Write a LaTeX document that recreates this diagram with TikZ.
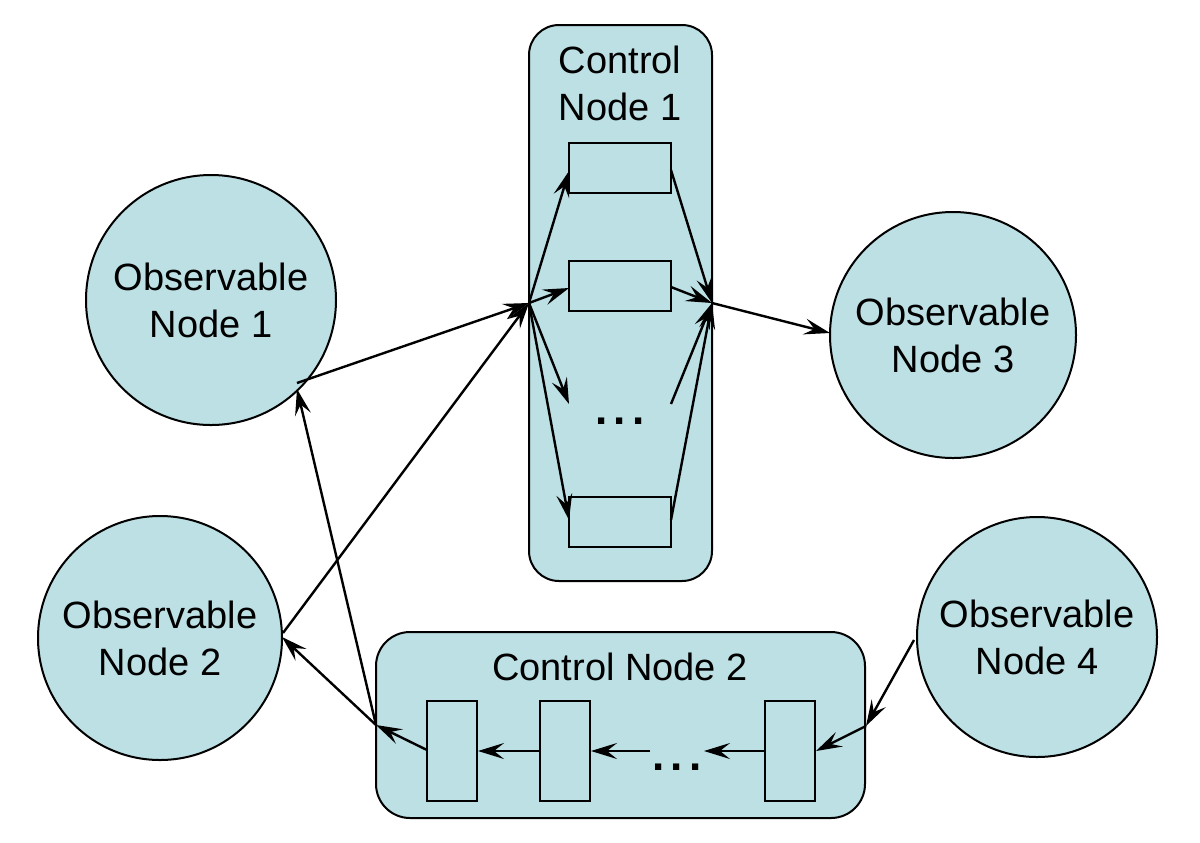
\documentclass[tikz,border=0pt]{standalone}
\usepackage{fontspec}
\setmainfont{Liberation Sans}
\usetikzlibrary{arrows.meta}
\definecolor{nodefill}{RGB}{188,224,228}
\begin{document}
\begin{tikzpicture}[x=0.5pt,y=-0.5pt,
  obs/.style={circle,draw,line width=1pt,fill=nodefill,inner sep=0pt,align=center,font=\fontsize{19}{23.5}\selectfont},
  ctrl/.style={draw,line width=1pt,fill=nodefill,rounded corners=15pt},
  cell/.style={draw,line width=1pt,fill=nodefill,inner sep=0pt},
  lbl/.style={font=\fontsize{19}{23.5}\selectfont,align=center,inner sep=0pt},
  dots/.style={font=\fontsize{22}{22}\selectfont\bfseries,inner sep=0pt,anchor=base},
  arr/.style={line width=1.2pt,-{Stealth[length=13pt,width=8pt,inset=5pt]}}]
\useasboundingbox (0,0) rectangle (1200,842);
% observable nodes
\node[obs,minimum size=125pt] (o1) at (211,300) {Observable\\Node 1};
\node[obs,minimum size=122pt] (o2) at (160,638) {Observable\\Node 2};
\node[obs,minimum size=123pt] (o3) at (953,335) {Observable\\Node 3};
\node[obs,minimum size=120pt] (o4) at (1037,637) {Observable\\Node 4};
% control node 1
\draw[ctrl] (529,25) rectangle (712,581);
\node[lbl] (t1) at (620,83) {Control\\Node 1};
\node[cell,minimum width=51pt,minimum height=25pt] (r1) at (620,168) {};
\node[cell,minimum width=51pt,minimum height=25pt] (r2) at (620,286) {};
\node[cell,minimum width=51pt,minimum height=25pt] (r4) at (620,522) {};
\node[dots] (d1) at (620,424) {.\kern3pt.\kern3pt.};
\coordinate (hub) at (529,303);
\coordinate (join) at (712,303);
\coordinate (r3l) at (569,404);
\coordinate (r3r) at (671,404);
% control node 2
\draw[ctrl,rounded corners=17pt] (376,632) rectangle (865,818);
\node[lbl] (t2) at (620,667) {Control Node 2};
\node[cell,minimum width=25pt,minimum height=50pt] (s1) at (452,751) {};
\node[cell,minimum width=25pt,minimum height=50pt] (s2) at (565,751) {};
\node[cell,minimum width=25pt,minimum height=50pt] (s4) at (790,751) {};
\node[dots] (d2) at (677,770) {.\kern3pt.\kern3pt.};
\coordinate (c2in) at (866,726);
\coordinate (c2out) at (376,725);
\coordinate (g1) at (704,751);
\coordinate (g2) at (650,751);
% connectors into control node 1
\draw[arr] (297,383) -- (hub);
\draw[arr] (283,633) -- (hub);
\draw[arr] (hub) -- (569,171);
\draw[arr] (hub) -- (569,288);
\draw[arr] (hub) -- (r3l);
\draw[arr] (hub) -- (569,520);
\draw[arr] (671,170) -- (join);
\draw[arr] (671,287) -- (join);
\draw[arr] (r3r) -- (join);
\draw[arr] (671,520) -- (join);
\draw[arr] (join) -- (830,333);
% control node 2 chain
\draw[arr] (914,640) -- (c2in);
\draw[arr] (c2in) -- (s4.east);
\draw[arr] (s4.west) -- (g1);
\draw[arr] (g2) -- (s2.east);
\draw[arr] (s2.west) -- (s1.east);
\draw[arr] (427,750) -- (c2out);
\draw[arr] (c2out) -- (282,637);
\draw[arr] (c2out) -- (297,389);
\end{tikzpicture}
\end{document}
